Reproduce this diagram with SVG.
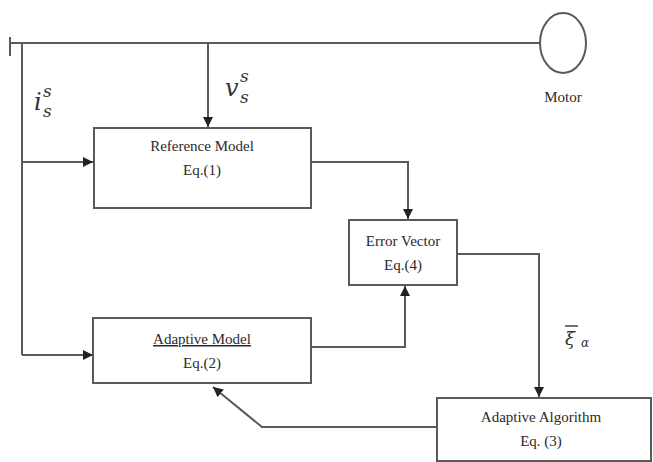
<svg xmlns="http://www.w3.org/2000/svg" width="653" height="462" viewBox="0 0 653 462">
<defs>
<style>
.ln{stroke:#5a5a5a;stroke-width:2;fill:none}
.bx{stroke:#5a5a5a;stroke-width:2;fill:#fff}
.t{font-family:"Liberation Serif",serif;font-size:15px;fill:#2a2a2a;text-anchor:middle}
.m{font-family:"DejaVu Serif","Liberation Serif",serif;font-style:italic;fill:#333}
</style>
<marker id="ah" viewBox="0 0 10 10" refX="10" refY="5" markerWidth="5" markerHeight="5" orient="auto"><path d="M0,0 L10,5 L0,10 z" fill="#222"/></marker>
</defs>
<rect width="653" height="462" fill="#fff"/>
<g id="connectors">
<path class="ln" d="M10,43 H540"/>
<path class="ln" d="M10,37 V56"/>
<path class="ln" d="M22,43 V355"/>
<path class="ln" d="M22,162 H93" marker-end="url(#ah)"/>
<path class="ln" d="M22,355 H93" marker-end="url(#ah)"/>
<path class="ln" d="M208,43 V127" marker-end="url(#ah)"/>
<path class="ln" d="M311,162 H408 V219" marker-end="url(#ah)"/>
<path class="ln" d="M311,347 H405 V286" marker-end="url(#ah)"/>
<path class="ln" d="M457,254 H539 V397" marker-end="url(#ah)"/>
<path class="ln" d="M436,427 H262 L213,387" marker-end="url(#ah)"/>
</g>
<g id="motor">
<ellipse class="bx" cx="563" cy="43" rx="23" ry="30"/>
<text class="t" x="563" y="102">Motor</text>
</g>
<g id="reference-model">
<rect class="bx" x="94" y="128" width="217" height="80"/>
<text class="t" x="202" y="151">Reference Model</text>
<text class="t" x="202" y="175">Eq.(1)</text>
</g>
<g id="error-vector">
<rect class="bx" x="349" y="220" width="108" height="65"/>
<text class="t" x="403" y="246">Error Vector</text>
<text class="t" x="403" y="270">Eq.(4)</text>
</g>
<g id="adaptive-model">
<rect class="bx" x="93" y="318" width="218" height="65"/>
<text class="t" x="202" y="344" text-decoration="underline">Adaptive  Model</text>
<text class="t" x="202" y="368">Eq.(2)</text>
</g>
<g id="adaptive-algorithm">
<rect class="bx" x="437" y="398" width="214" height="63"/>
<text class="t" x="541" y="422">Adaptive Algorithm</text>
<text class="t" x="541" y="446">Eq. (3)</text>
</g>
<g id="labels">
<text class="m" x="34" y="110" font-size="24">i</text>
<text class="m" x="43" y="97" font-size="17">s</text>
<text class="m" x="43" y="117" font-size="17">s</text>
<text class="m" x="225" y="96" font-size="24">v</text>
<text class="m" x="240" y="82" font-size="17">s</text>
<text class="m" x="240" y="103" font-size="17">s</text>
<path d="M565,326 H578" stroke="#444" stroke-width="1.5"/>
<text class="m" x="565" y="345" font-size="18">ξ</text>
<text class="m" x="581" y="347" font-size="12">α</text>
</g>
</svg>
